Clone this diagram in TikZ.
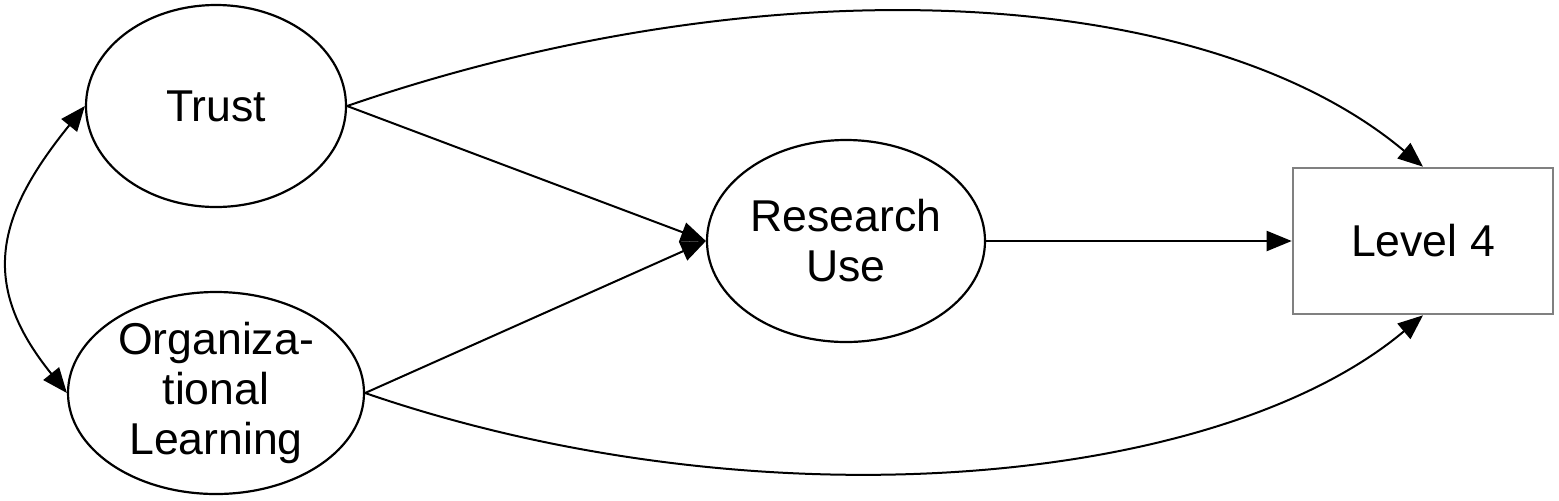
\documentclass[tikz,border=0pt]{standalone}
\usepackage{fontspec}
\setmainfont{Liberation Sans}
\usetikzlibrary{shapes.geometric, arrows.meta}

\begin{document}
\begin{tikzpicture}[x=0.5pt, y=0.5pt,
    latent/.style={ellipse, draw, line width=1.1pt, minimum height=101pt, inner sep=0pt, align=center, font=\fontsize{22.3}{25}\selectfont},
    observed/.style={rectangle, draw=gray, line width=1.3pt, minimum width=130pt, minimum height=73pt, font=\fontsize{22.3}{25}\selectfont},
    effect/.style={-{Triangle[length=12.5pt, width=10pt]}, line width=1pt}]
    \useasboundingbox (0,0) rectangle (1559,-500);
    \node[latent, minimum width=130pt] (trust) at (216,-106) {Trust};
    \node[latent, minimum width=148pt] (orglearn) at (216,-393) {Organiza-\\tional\\Learning};
    \node[latent, minimum width=139pt] (resuse) at (846,-241) {Research\\Use};
    \node[observed] (level) at (1423,-241) {Level 4};
    % correlation between the two predictors
    \draw[{Triangle[length=12.5pt, width=10pt]}-{Triangle[length=12.5pt, width=10pt]}, line width=1pt]
      (trust.west) to[out=231, in=129, looseness=1.25] (orglearn.west);
    % paths
    \draw[effect] (trust.east) -- (resuse.west);
    \draw[effect] (orglearn.east) -- (resuse.west);
    \draw[effect] (resuse.east) -- (level.west);
    \draw[effect] (trust.east) to[out=19, in=140, out looseness=1.05, in looseness=0.68] (level.north);
    \draw[effect] (orglearn.east) to[out=-19, in=220, out looseness=1, in looseness=0.65] (level.south);
\end{tikzpicture}
\end{document}
